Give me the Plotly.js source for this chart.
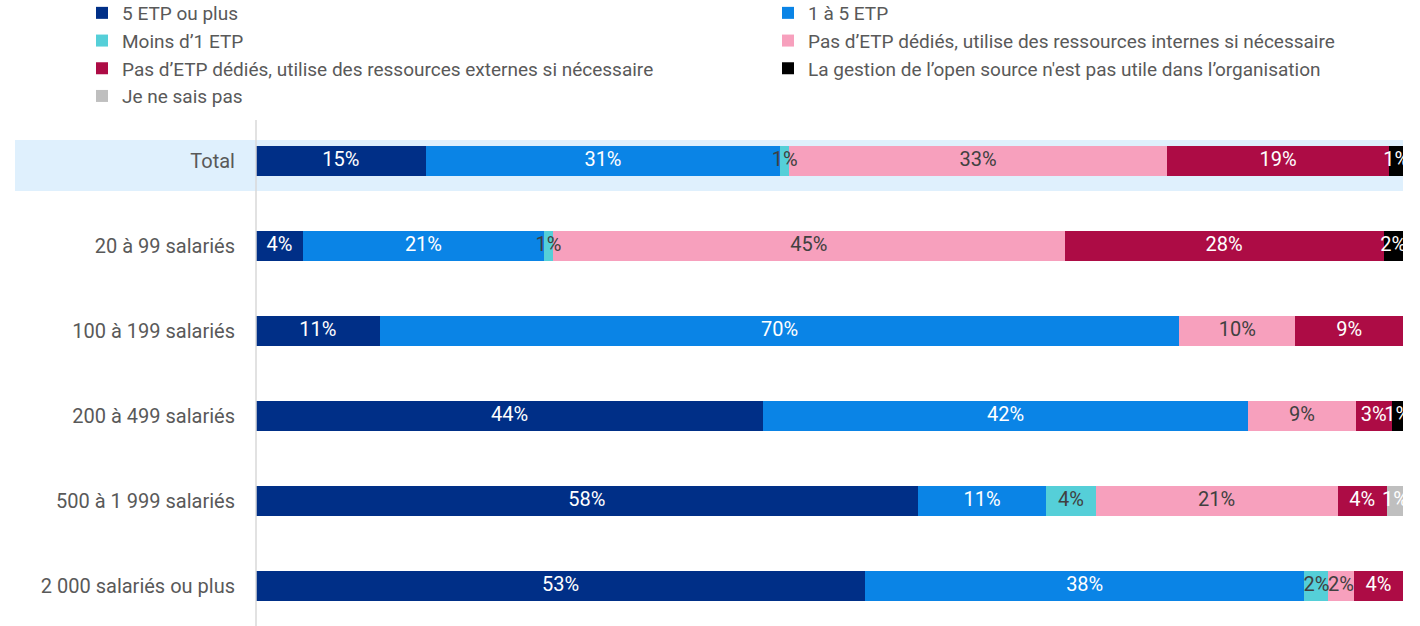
<!DOCTYPE html>
<html>
<head>
<meta charset="utf-8">
<script src="https://cdn.plot.ly/plotly-3.0.1.min.js"></script>
<style>html,body{margin:0;padding:0;background:#fff;}#chart{width:1420px;height:626px;}</style>
</head>
<body>
<div id="chart"></div>
<script>
const categories = ["Total", "20 à 99 salariés", "100 à 199 salariés", "200 à 499 salariés", "500 à 1 999 salariés", "2 000 salariés ou plus"];
const seriesNames = [
  "5 ETP ou plus",
  "1 à 5 ETP",
  "Moins d’1 ETP",
  "Pas d’ETP dédiés, utilise des ressources internes si nécessaire",
  "Pas d’ETP dédiés, utilise des ressources externes si nécessaire",
  "La gestion de l’open source n'est pas utile dans l’organisation",
  "Je ne sais pas"
];
const etp5plus   = [14.8, 4.1, 10.8, 44.2, 57.7, 53.1];
const etp1to5    = [30.9, 21.0, 69.7, 42.3, 11.2, 38.3];
const moins1     = [0.8, 0.8, 0, 0, 4.3, 2.1];
const internes   = [32.9, 44.6, 10.1, 9.4, 21.1, 2.2];
const externes   = [19.4, 27.8, 9.4, 3.1, 4.3, 4.3];
const pasUtile   = [1.2, 1.7, 0, 1.0, 0, 0];
const neSaisPas  = [0, 0, 0, 0, 1.4, 0];

const series = [etp5plus, etp1to5, moins1, internes, externes, pasUtile, neSaisPas];
const colors = ["#002F87", "#0A84E6", "#55CFD8", "#F7A0BD", "#AD0C45", "#000000", "#BFBFBF"];
const textColors = ["#FFFFFF", "#FFFFFF", "#404040", "#404040", "#FFFFFF", "#FFFFFF", "#FFFFFF"];
// series 0,2,4,6 in left legend column, 1,3,5 in right column
const legendOf = ["legend", "legend2", "legend", "legend2", "legend", "legend2", "legend"];

const FONT = "Roboto, 'Open Sans', sans-serif";
const FS = 20;
const LFS = 19;

const barTraces = series.map((vals, i) => ({
  type: "bar",
  orientation: "h",
  name: seriesNames[i],
  legend: legendOf[i],
  legendgroup: "g" + i,
  y: categories,
  x: vals,
  marker: {color: colors[i], line: {width: 0}},
  hoverinfo: "name+x"
}));

// label traces: centred on each segment through the x axis scale
const cum = categories.map(() => 0);
const textTraces = [];
series.forEach((vals, i) => {
  const xs = [], ys = [], ts = [];
  vals.forEach((v, j) => {
    if (v > 0) {
      xs.push(cum[j] + v / 2);
      ys.push(categories[j]);
      ts.push(Math.round(v) + "%");
    }
    cum[j] += v;
  });
  textTraces.push({
    type: "scatter",
    mode: "text",
    x: xs, y: ys, text: ts,
    textposition: "middle center",
    textfont: {family: FONT, size: FS, color: textColors[i]},
    showlegend: false,
    hoverinfo: "skip",
    cliponaxis: false
  });
});

const legendBase = {
  orientation: "v",
  xanchor: "left",
  yanchor: "top",
  y: 1.249,
  font: {family: FONT, size: LFS, color: "#595959"},
  traceorder: "normal",
  tracegroupgap: 0,
  itemwidth: 30,
  bgcolor: "rgba(0,0,0,0)",
  borderwidth: 0
};

const layout = {
  width: 1420,
  height: 626,
  margin: {l: 256, r: 17, t: 120, b: 0, autoexpand: false},
  paper_bgcolor: "#FFFFFF",
  plot_bgcolor: "rgba(0,0,0,0)",
  barmode: "stack",
  bargap: 0.647,
  font: {family: FONT, size: FS, color: "#595959"},
  showlegend: true,
  legend: Object.assign({}, legendBase, {x: -0.1517}),
  legend2: Object.assign({}, legendBase, {x: -0.1517 + 686 / 1147}),
  xaxis: {
    range: [0, 100],
    showgrid: false,
    zeroline: false,
    showticklabels: false,
    showline: false,
    fixedrange: true
  },
  yaxis: {
    type: "category",
    categoryorder: "array",
    categoryarray: categories,
    range: [5.471, -0.482],
    showgrid: false,
    zeroline: false,
    showline: false,
    ticks: "",
    ticklabelstandoff: 20,
    tickfont: {family: FONT, size: FS, color: "#595959"},
    fixedrange: true
  },
  shapes: [
    {
      type: "rect", layer: "below",
      xref: "paper", yref: "y",
      x0: -0.2101, x1: 1.0, y0: -0.247, y1: 0.353,
      fillcolor: "#DFF0FD", line: {width: 0}
    },
    {
      type: "line", layer: "above",
      xref: "paper", yref: "paper",
      x0: 0, x1: 0, y0: 0, y1: 1,
      line: {color: "#D9D9D9", width: 1.5}
    }
  ]
};

Plotly.newPlot("chart", barTraces.concat(textTraces), layout, {displayModeBar: false, staticPlot: true});
</script>
</body>
</html>
